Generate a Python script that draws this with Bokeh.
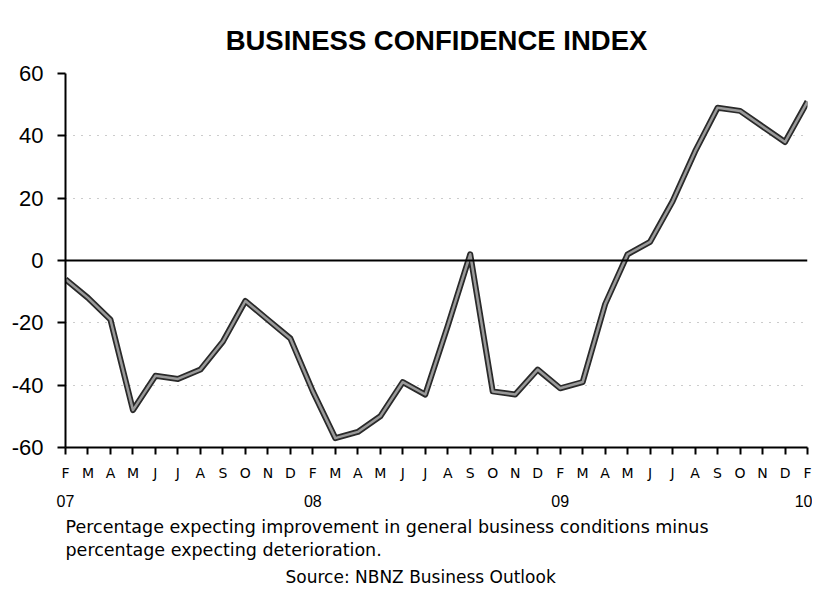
from bokeh.plotting import figure
from bokeh.models import FixedTicker, LinearAxis, Title, Span, Range1d
from bokeh.embed import file_html
from bokeh.resources import INLINE

# ---- data ----
months = ["F", "M", "A", "M", "J", "J", "A", "S", "O", "N", "D",
          "F", "M", "A", "M", "J", "J", "A", "S", "O", "N", "D",
          "F", "M", "A", "M", "J", "J", "A", "S", "O", "N", "D",
          "F"]
years = ["07", "08", "09", "10"]
year_pos = [0, 11, 22, 33]
confidence = [-6, -12, -19, -48, -37, -38, -35, -26, -13, -19, -25,
              -42, -57, -55, -50, -39, -43, -21, 2, -42, -43, -35,
              -41, -39, -14, 2, 6, 19, 35, 49, 48, 43, 38,
              51]
y_ticks = [-60, -40, -20, 0, 20, 40, 60]

x = list(range(len(confidence)))

p = figure(width=812, height=590,
           x_range=Range1d(0, len(confidence) - 1),
           y_range=Range1d(-60, 60),
           output_backend="svg", toolbar_location=None,
           min_border_left=65, min_border_right=5,
           min_border_top=73, min_border_bottom=143)
p.outline_line_color = None
p.background_fill_color = "white"
p.border_fill_color = "white"

# title
p.title.text = "BUSINESS CONFIDENCE INDEX"
p.title.align = "center"
p.title.text_font = "Liberation Sans"
p.title.text_font_size = "27.5px"
p.title.text_font_style = "bold"
p.title.text_color = "black"
p.title.standoff = 36

# y axis
p.yaxis.ticker = FixedTicker(ticks=y_ticks)
p.yaxis.major_label_overrides = {t: str(t) for t in y_ticks}
p.yaxis.axis_line_width = 2
p.yaxis.axis_line_color = "black"
p.yaxis.major_tick_out = 8
p.yaxis.major_tick_in = 0
p.yaxis.major_tick_line_width = 2
p.yaxis.minor_tick_line_color = None
p.yaxis.major_label_text_font = "Liberation Sans"
p.yaxis.major_label_text_font_size = "22px"
p.yaxis.major_label_text_color = "black"
p.yaxis.major_label_standoff = 14

# x axis (months)
p.xaxis.ticker = FixedTicker(ticks=x)
p.xaxis.major_label_overrides = {i: m for i, m in enumerate(months)}
p.xaxis.axis_line_width = 2
p.xaxis.axis_line_color = "black"
p.xaxis.major_tick_out = 7
p.xaxis.major_tick_in = 0
p.xaxis.major_tick_line_width = 2
p.xaxis.minor_tick_line_color = None
p.xaxis.major_label_text_font = "DejaVu Sans"
p.xaxis.major_label_text_font_size = "14px"
p.xaxis.major_label_text_color = "black"
p.xaxis.major_label_standoff = 10

# year axis
yax = LinearAxis(ticker=FixedTicker(ticks=year_pos),
                 major_label_overrides={pos: yr for pos, yr in zip(year_pos, years)})
yax.axis_line_color = None
yax.major_tick_line_color = None
yax.minor_tick_line_color = None
yax.major_label_text_font = "Liberation Sans"
yax.major_label_text_font_size = "16px"
yax.major_label_text_color = "black"
yax.major_label_standoff = 5
p.add_layout(yax, "below")

# grid
p.xgrid.visible = False
p.ygrid.ticker = FixedTicker(ticks=[-40, -20, 20, 40, 60])
p.ygrid.grid_line_color = "#999999"
p.ygrid.grid_line_dash = "1 7"
p.ygrid.grid_line_width = 1

p.add_layout(Span(location=0, dimension="width", line_color="black", line_width=2))

# series line: dark outline with grey core
p.line(x, confidence, line_color="#2a2a2a", line_width=6, line_join="round")
p.line(x, confidence, line_color="#9a9a9a", line_width=2.5, line_join="round")

# captions
cap = Title(text="Percentage expecting improvement in general business conditions minus\n"
                 "percentage expecting deterioration.",
            align="left", text_font="DejaVu Sans", text_font_size="17.5px",
            text_font_style="normal", text_color="black", text_line_height=1.15,
            standoff=10)
src = Title(text="Source: NBNZ Business Outlook",
            align="left", offset=220, text_font="DejaVu Sans", text_font_size="17px",
            text_font_style="normal", text_color="black", standoff=0)
p.add_layout(cap, "below")
p.add_layout(src, "below")

open("out.html", "w").write(file_html(p, INLINE))
